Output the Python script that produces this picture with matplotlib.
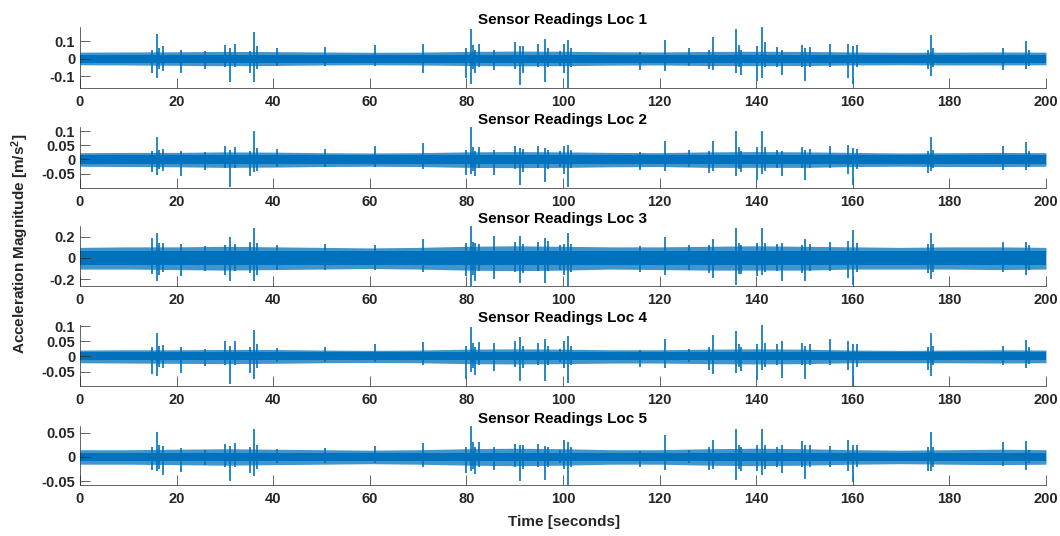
import matplotlib
matplotlib.use('Agg')
import matplotlib.pyplot as plt

plt.rcParams['font.family'] = ['Liberation Sans', 'DejaVu Sans']
plt.rcParams['font.weight'] = 'bold'
plt.rcParams['mathtext.fontset'] = 'custom'
plt.rcParams['mathtext.rm'] = 'Liberation Sans:bold'
plt.rcParams['mathtext.bf'] = 'Liberation Sans:bold'
plt.rcParams['mathtext.it'] = 'Liberation Sans:bold'

# --- data ---
titles = ['Sensor Readings Loc 1', 'Sensor Readings Loc 2', 'Sensor Readings Loc 3',
          'Sensor Readings Loc 4', 'Sensor Readings Loc 5']
x_ticks = [0, 20, 40, 60, 80, 100, 120, 140, 160, 180, 200]
y_ticks = [[-0.1, 0, 0.1],
           [-0.05, 0, 0.05, 0.1],
           [-0.2, 0, 0.2],
           [-0.05, 0, 0.05, 0.1],
           [-0.05, 0, 0.05]]
y_tick_labels = [['-0.1', '0', '0.1'],
                 ['-0.05', '0', '0.05', '0.1'],
                 ['-0.2', '0', '0.2'],
                 ['-0.05', '0', '0.05', '0.1'],
                 ['-0.05', '0', '0.05']]
y_limits = [(-0.167, 0.18), (-0.101, 0.115), (-0.265, 0.302), (-0.098, 0.104), (-0.058, 0.064)]

# envelope of the background noise, sampled every 10 s
band_t = [0, 10, 20, 30, 40, 50, 60, 70, 80, 90, 100, 110, 120, 130, 140, 150, 160, 170, 180, 190, 200]
band_hi = [
    [0.037, 0.038, 0.039, 0.041, 0.040, 0.038, 0.036, 0.037, 0.041, 0.043, 0.042, 0.039, 0.038, 0.041, 0.042, 0.041, 0.038, 0.036, 0.037, 0.038, 0.037],
    [0.024, 0.025, 0.025, 0.027, 0.026, 0.024, 0.023, 0.024, 0.027, 0.028, 0.027, 0.025, 0.024, 0.027, 0.028, 0.027, 0.025, 0.023, 0.024, 0.025, 0.024],
    [0.100, 0.105, 0.105, 0.110, 0.105, 0.100, 0.095, 0.100, 0.110, 0.115, 0.110, 0.105, 0.105, 0.110, 0.115, 0.110, 0.105, 0.100, 0.105, 0.105, 0.100],
    [0.021, 0.022, 0.022, 0.023, 0.023, 0.021, 0.020, 0.021, 0.024, 0.025, 0.024, 0.022, 0.022, 0.024, 0.025, 0.024, 0.021, 0.020, 0.021, 0.022, 0.021],
    [0.015, 0.015, 0.016, 0.017, 0.016, 0.015, 0.014, 0.015, 0.017, 0.018, 0.017, 0.015, 0.015, 0.017, 0.018, 0.017, 0.015, 0.014, 0.015, 0.016, 0.015],
]
band_lo = [
    [-0.035, -0.036, -0.038, -0.040, -0.039, -0.036, -0.035, -0.036, -0.039, -0.041, -0.040, -0.037, -0.036, -0.039, -0.040, -0.039, -0.036, -0.035, -0.036, -0.036, -0.035],
    [-0.024, -0.025, -0.026, -0.028, -0.027, -0.025, -0.024, -0.025, -0.028, -0.029, -0.028, -0.026, -0.025, -0.028, -0.028, -0.028, -0.025, -0.024, -0.025, -0.025, -0.024],
    [-0.105, -0.105, -0.110, -0.115, -0.110, -0.105, -0.100, -0.105, -0.115, -0.120, -0.115, -0.105, -0.110, -0.115, -0.115, -0.115, -0.105, -0.105, -0.105, -0.110, -0.105],
    [-0.021, -0.022, -0.023, -0.024, -0.023, -0.021, -0.020, -0.021, -0.024, -0.025, -0.024, -0.022, -0.022, -0.024, -0.025, -0.024, -0.021, -0.021, -0.021, -0.022, -0.021],
    [-0.015, -0.015, -0.016, -0.017, -0.016, -0.015, -0.014, -0.015, -0.017, -0.018, -0.017, -0.015, -0.015, -0.017, -0.018, -0.017, -0.015, -0.014, -0.015, -0.016, -0.015],
]
# dense inner part of the noise (lo, hi)
core = [(-0.022, 0.022), (-0.015, 0.015), (-0.065, 0.065), (-0.013, 0.013), (-0.009, 0.009)]

# vibration bursts: times (same events seen by every sensor) and peak values per sensor
burst_t = [15.0, 15.9, 16.4, 17.1, 21.0, 25.9, 30.0, 31.0, 32.1, 35.2, 36.1, 36.7, 40.7, 50.7, 61.1,
           71.1, 80.0, 80.9, 81.4, 81.8, 82.6, 85.8, 90.0, 91.1, 91.8, 94.9, 96.3, 96.8, 99.4,
           100.2, 101.1, 101.6, 116.0, 121.1, 126.0, 130.3, 131.1, 135.9, 136.5, 136.9, 140.1,
           141.1, 141.8, 144.3, 145.3, 149.4, 150.1, 151.2, 155.3, 159.1, 160.1, 160.8, 175.5,
           176.1, 176.6, 191.1, 195.9, 196.5]
burst_hi = [
    [0.05, 0.139, 0.06, 0.071, 0.05, 0.045, 0.077, 0.06, 0.086, 0.043, 0.152, 0.07, 0.058, 0.067, 0.077,
     0.086, 0.058, 0.17, 0.08, 0.05, 0.086, 0.05, 0.095, 0.07, 0.07, 0.082, 0.114, 0.06, 0.045,
     0.086, 0.105, 0.06, 0.04, 0.105, 0.058, 0.05, 0.124, 0.17, 0.08, 0.05, 0.07,
     0.18, 0.095, 0.067, 0.05, 0.077, 0.06, 0.067, 0.082, 0.086, 0.07, 0.077, 0.05,
     0.133, 0.06, 0.058, 0.10, 0.05],
    [0.03, 0.081, 0.035, 0.038, 0.03, 0.025, 0.046, 0.035, 0.043, 0.03, 0.102, 0.04, 0.038, 0.038, 0.046,
     0.057, 0.035, 0.114, 0.045, 0.03, 0.043, 0.032, 0.049, 0.04, 0.038, 0.049, 0.04, 0.035, 0.03,
     0.049, 0.05, 0.035, 0.025, 0.065, 0.032, 0.03, 0.067, 0.10, 0.045, 0.03, 0.045,
     0.102, 0.045, 0.035, 0.03, 0.043, 0.035, 0.038, 0.046, 0.053, 0.04, 0.038, 0.03,
     0.081, 0.035, 0.049, 0.061, 0.03],
    [0.185, 0.238, 0.14, 0.138, 0.131, 0.11, 0.12, 0.20, 0.13, 0.15, 0.279, 0.14, 0.125, 0.131, 0.125,
     0.175, 0.14, 0.30, 0.15, 0.138, 0.13, 0.207, 0.15, 0.207, 0.13, 0.15, 0.185, 0.16, 0.12,
     0.13, 0.232, 0.13, 0.11, 0.20, 0.12, 0.12, 0.175, 0.279, 0.14, 0.12, 0.14,
     0.279, 0.14, 0.13, 0.14, 0.12, 0.175, 0.13, 0.15, 0.163, 0.263, 0.14, 0.13,
     0.238, 0.13, 0.15, 0.15, 0.12],
    [0.03, 0.078, 0.035, 0.039, 0.03, 0.025, 0.05, 0.035, 0.05, 0.03, 0.089, 0.04, 0.028, 0.03, 0.042,
     0.048, 0.035, 0.096, 0.045, 0.03, 0.048, 0.045, 0.05, 0.064, 0.035, 0.045, 0.056, 0.035, 0.025,
     0.05, 0.066, 0.035, 0.022, 0.059, 0.025, 0.03, 0.072, 0.083, 0.04, 0.03, 0.04,
     0.103, 0.045, 0.04, 0.05, 0.045, 0.035, 0.04, 0.056, 0.05, 0.04, 0.04, 0.03,
     0.078, 0.035, 0.034, 0.053, 0.03],
    [0.02, 0.051, 0.025, 0.022, 0.018, 0.015, 0.027, 0.022, 0.029, 0.02, 0.058, 0.025, 0.017, 0.018, 0.023,
     0.029, 0.02, 0.063, 0.03, 0.02, 0.031, 0.02, 0.027, 0.025, 0.025, 0.027, 0.023, 0.02, 0.015,
     0.035, 0.03, 0.02, 0.013, 0.045, 0.015, 0.02, 0.035, 0.058, 0.025, 0.02, 0.025,
     0.058, 0.025, 0.02, 0.025, 0.033, 0.025, 0.025, 0.023, 0.035, 0.025, 0.025, 0.02,
     0.051, 0.02, 0.03, 0.033, 0.015],
]
burst_lo = [
    [-0.08, -0.11, -0.06, -0.073, -0.08, -0.06, -0.05, -0.133, -0.045, -0.08, -0.133, -0.06, -0.04, -0.04, -0.04,
     -0.08, -0.11, -0.142, -0.06, -0.08, -0.05, -0.064, -0.06, -0.148, -0.08, -0.05, -0.133, -0.05, -0.04,
     -0.08, -0.167, -0.05, -0.064, -0.073, -0.04, -0.06, -0.064, -0.08, -0.05, -0.092, -0.129,
     -0.11, -0.05, -0.05, -0.092, -0.05, -0.129, -0.05, -0.05, -0.11, -0.142, -0.05, -0.06,
     -0.10, -0.05, -0.064, -0.06, -0.04],
    [-0.045, -0.056, -0.035, -0.04, -0.06, -0.036, -0.03, -0.097, -0.03, -0.06, -0.045, -0.04, -0.025, -0.025, -0.025,
     -0.033, -0.056, -0.05, -0.04, -0.06, -0.03, -0.056, -0.035, -0.089, -0.045, -0.03, -0.08, -0.035, -0.025,
     -0.05, -0.097, -0.03, -0.039, -0.04, -0.025, -0.048, -0.04, -0.06, -0.035, -0.045, -0.074,
     -0.05, -0.04, -0.03, -0.06, -0.03, -0.074, -0.03, -0.03, -0.05, -0.092, -0.035, -0.048,
     -0.04, -0.03, -0.039, -0.036, -0.025],
    [-0.15, -0.222, -0.16, -0.13, -0.175, -0.12, -0.165, -0.222, -0.12, -0.14, -0.222, -0.165, -0.11, -0.11, -0.11,
     -0.13, -0.175, -0.263, -0.16, -0.222, -0.12, -0.20, -0.13, -0.232, -0.14, -0.12, -0.232, -0.12, -0.11,
     -0.16, -0.263, -0.13, -0.13, -0.165, -0.11, -0.14, -0.191, -0.255, -0.15, -0.15, -0.175,
     -0.16, -0.13, -0.12, -0.222, -0.14, -0.222, -0.12, -0.12, -0.19, -0.26, -0.13, -0.14,
     -0.20, -0.13, -0.13, -0.16, -0.11],
    [-0.057, -0.065, -0.035, -0.04, -0.054, -0.033, -0.03, -0.09, -0.03, -0.054, -0.076, -0.04, -0.02, -0.02, -0.02,
     -0.03, -0.076, -0.05, -0.04, -0.061, -0.03, -0.048, -0.035, -0.081, -0.04, -0.03, -0.081, -0.03, -0.02,
     -0.04, -0.087, -0.03, -0.035, -0.04, -0.02, -0.045, -0.057, -0.054, -0.035, -0.048, -0.079,
     -0.045, -0.035, -0.03, -0.07, -0.03, -0.076, -0.03, -0.03, -0.045, -0.098, -0.035, -0.045,
     -0.065, -0.03, -0.03, -0.04, -0.025],
    [-0.027, -0.03, -0.025, -0.038, -0.031, -0.017, -0.02, -0.049, -0.02, -0.033, -0.04, -0.025, -0.012, -0.013, -0.013,
     -0.02, -0.033, -0.03, -0.025, -0.035, -0.02, -0.027, -0.02, -0.049, -0.025, -0.02, -0.047, -0.02, -0.013,
     -0.025, -0.057, -0.02, -0.02, -0.027, -0.013, -0.027, -0.025, -0.047, -0.025, -0.03, -0.03,
     -0.037, -0.025, -0.02, -0.033, -0.02, -0.045, -0.02, -0.02, -0.03, -0.051, -0.02, -0.03,
     -0.03, -0.02, -0.018, -0.027, -0.013],
]

BLUE = '#0072BD'
AXCOL = '#262626'

fig = plt.figure(figsize=(10.6, 5.36), dpi=100)

# axes placement in pixels (top, bottom) measured on the reference
left_px, right_px = 80, 1046
rows_px = [(27, 88), (127, 188), (226, 286), (325, 386), (426, 485)]

for i in range(5):
    top, bot = rows_px[i]
    ax = fig.add_axes([left_px / 1060, 1 - bot / 536, (right_px - left_px) / 1060, (bot - top) / 536])
    ax.fill_between(band_t, band_lo[i], band_hi[i], color=BLUE, alpha=0.75, lw=0)
    ax.fill_between(band_t, core[i][0], core[i][1], color=BLUE, lw=0)
    ax.vlines(burst_t, burst_lo[i], burst_hi[i], color=BLUE, lw=1.2)

    ax.set_xlim(0, 200)
    ax.set_ylim(y_limits[i])
    ax.set_xticks(x_ticks)
    ax.set_yticks(y_ticks[i], y_tick_labels[i])
    for side in ['top', 'right']:
        ax.spines[side].set_visible(False)
    for side in ['left', 'bottom']:
        ax.spines[side].set_color(AXCOL)
        ax.spines[side].set_linewidth(0.5)
    ax.tick_params(direction='in', length=7, width=0.5, colors=AXCOL, labelsize=10.5)
    ax.tick_params(axis='x', pad=5)
    ax.tick_params(axis='y', pad=3.5)
    ax.set_title(titles[i], fontsize=11, fontweight='bold', pad=2)

fig.text(20 / 1060, 1 - 244 / 536, r'Acceleration Magnitude [m/s$^{2}$]', rotation=90,
         ha='center', va='center', fontsize=11, fontweight='bold', color=AXCOL)
fig.text(564 / 1060, 1 - 522 / 536, 'Time [seconds]', ha='center', va='center',
         fontsize=11, fontweight='bold', color=AXCOL)

fig.savefig('out.png', dpi=100)
